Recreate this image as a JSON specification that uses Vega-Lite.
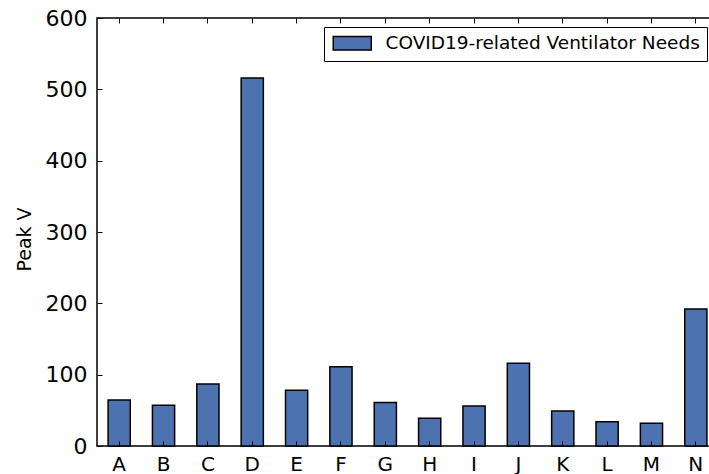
{
  "$schema": "https://vega.github.io/schema/vega-lite/v6.json",
  "width": 621,
  "height": 428,
  "autosize": {"type": "none"},
  "padding": {"left": 97, "top": 18, "right": 0, "bottom": 28},
  "background": "white",
  "config": {
    "view": {"stroke": "black", "strokeWidth": 1.5},
    "font": "DejaVu Sans"
  },
  "data": {
    "values": [
      {"region": "A", "peak": 64.5, "series": "COVID19-related Ventilator Needs"},
      {"region": "B", "peak": 57, "series": "COVID19-related Ventilator Needs"},
      {"region": "C", "peak": 87, "series": "COVID19-related Ventilator Needs"},
      {"region": "D", "peak": 516, "series": "COVID19-related Ventilator Needs"},
      {"region": "E", "peak": 78, "series": "COVID19-related Ventilator Needs"},
      {"region": "F", "peak": 111, "series": "COVID19-related Ventilator Needs"},
      {"region": "G", "peak": 61, "series": "COVID19-related Ventilator Needs"},
      {"region": "H", "peak": 39, "series": "COVID19-related Ventilator Needs"},
      {"region": "I", "peak": 56, "series": "COVID19-related Ventilator Needs"},
      {"region": "J", "peak": 116, "series": "COVID19-related Ventilator Needs"},
      {"region": "K", "peak": 49, "series": "COVID19-related Ventilator Needs"},
      {"region": "L", "peak": 34, "series": "COVID19-related Ventilator Needs"},
      {"region": "M", "peak": 32, "series": "COVID19-related Ventilator Needs"},
      {"region": "N", "peak": 192, "series": "COVID19-related Ventilator Needs"}
    ]
  },
  "layer": [
    {
      "mark": {"type": "bar", "stroke": "black", "strokeWidth": 1.5},
      "encoding": {
        "x": {
          "field": "region", "type": "nominal", "sort": null,
          "scale": {"paddingInner": 0.5, "paddingOuter": 0.25},
          "axis": {
            "title": null, "labelAngle": 0, "labelFontSize": 20, "labelColor": "black",
            "labelFont": "DejaVu Sans", "domain": false, "tickSize": -5, "tickColor": "black",
            "tickWidth": 1, "labelPadding": 13, "zindex": 1
          }
        },
        "y": {
          "field": "peak", "type": "quantitative",
          "scale": {"domain": [0, 600], "nice": false},
          "axis": {
            "values": [0, 100, 200, 300, 400, 500, 600],
            "title": "Peak V", "titleFontSize": 19, "titleFontWeight": "normal", "titleColor": "black",
            "titleFont": "DejaVu Sans", "titlePadding": 11, "titleY": 221,
            "labelFontSize": 22, "labelColor": "black", "labelFont": "DejaVu Sans",
            "domain": false, "grid": false, "tickSize": -5, "tickColor": "black", "tickWidth": 1,
            "labelPadding": 15, "zindex": 1
          }
        },
        "color": {
          "field": "series", "type": "nominal",
          "scale": {"range": ["#4c72b0"]},
          "legend": {
            "title": null, "orient": "none", "legendX": 227, "legendY": 9,
            "symbolType": "M-1,-0.97H4.43V0.97H-1Z", "symbolSize": 196,
            "symbolStrokeColor": "black", "symbolStrokeWidth": 1.5, "symbolOpacity": 1,
            "labelFontSize": 18.5, "labelFont": "DejaVu Sans", "labelColor": "black",
            "labelOffset": 36, "labelLimit": 500, "padding": 7, "strokeColor": "black", "fillColor": "white",
            "cornerRadius": 0
          }
        }
      }
    },
    {
      "mark": {"type": "bar", "opacity": 0},
      "encoding": {
        "x": {
          "field": "region", "type": "nominal", "sort": null,
          "scale": {"paddingInner": 0.5, "paddingOuter": 0.25},
          "axis": {
            "orient": "top", "title": null, "labels": false, "domain": false,
            "tickSize": -5, "tickColor": "black", "tickWidth": 1, "zindex": 1
          }
        },
        "y": {"field": "peak", "type": "quantitative"}
      }
    }
  ],
  "resolve": {"axis": {"x": "independent"}}
}
